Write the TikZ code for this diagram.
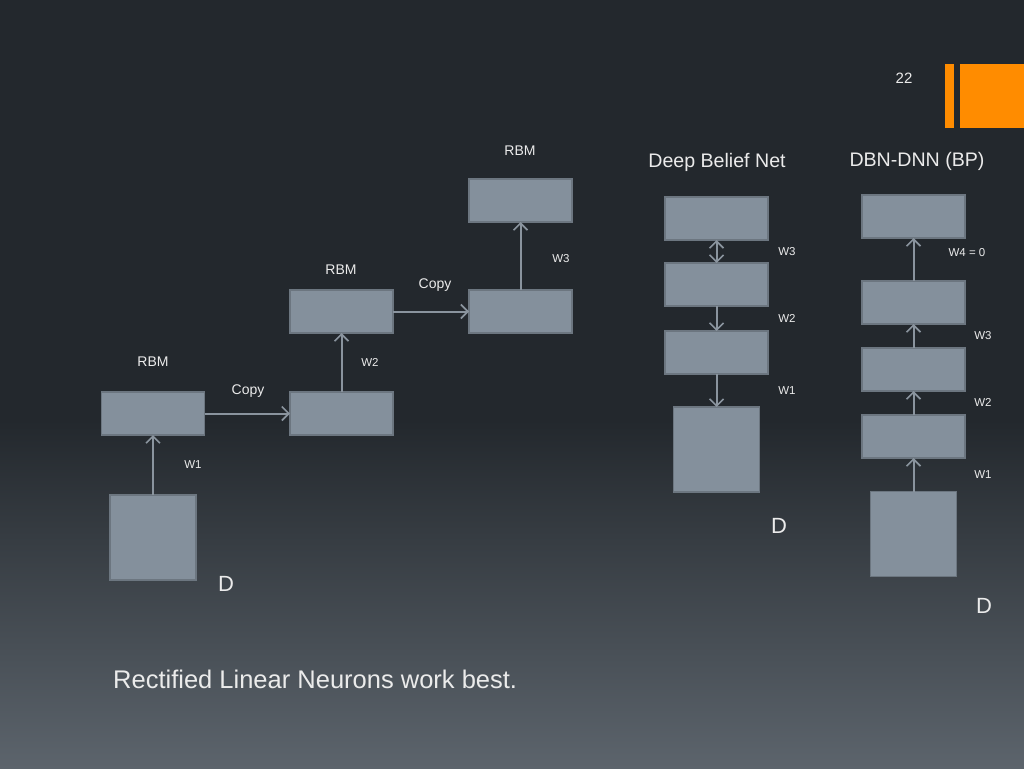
\documentclass[tikz,border=0pt]{standalone}
\usepackage{fontspec}
\setmainfont{Liberation Sans}
\usetikzlibrary{arrows.meta}
\definecolor{bgtop}{RGB}{35,40,45}
\definecolor{bgbot}{RGB}{92,100,108}
\definecolor{boxfill}{RGB}{132,144,156}
\definecolor{boxline}{RGB}{108,118,128}
\definecolor{arr}{RGB}{138,148,158}
\definecolor{txt}{RGB}{235,235,235}
\definecolor{orng}{RGB}{255,140,0}
\begin{document}
\begin{tikzpicture}[x=1pt,y=-1pt,
  blk/.style={draw=boxline,fill=boxfill,line width=1.8pt,minimum width=103pt,minimum height=43pt,inner sep=0pt,outer sep=0pt},
  dbox/.style={blk,minimum width=86pt,minimum height=85pt},
  lab/.style={text=txt,font=\fontsize{14}{16}\selectfont,inner sep=0pt},
  wlab/.style={text=txt,font=\fontsize{11.5}{13}\selectfont,inner sep=0pt},
  big/.style={text=txt,font=\fontsize{19.6}{22}\selectfont,inner sep=0pt},
  dlab/.style={text=txt,font=\fontsize{22}{24}\selectfont,inner sep=0pt},
  tip/.tip={Straight Barb[length=7pt,width=14pt,line width=1.6pt]},
  conn/.style={draw=arr,line width=2pt,-tip},
  conn2/.style={draw=arr,line width=2pt,tip-tip}
]
\useasboundingbox (0,0) rectangle (1024,768);
\fill[bgtop] (0,0) rectangle (1024,768);
\shade[top color=bgtop,bottom color=bgbot] (0,420) rectangle (1024,768);
% orange bars
\fill[orng] (945,64) rectangle (954,128);
\fill[orng] (960,64) rectangle (1024,128);
\node[text=txt,font=\fontsize{15}{17}\selectfont,inner sep=0pt] (pg) at (904,78) {22};
% left stack
\node[dbox] (d1) at (153,537.5) {};
\node[blk] (r1) at (153,413.5) {};
\node[blk] (c1) at (341.5,413.5) {};
\node[blk] (r2) at (341.5,311.5) {};
\node[blk] (c2) at (520.5,311.5) {};
\node[blk] (r3) at (520.5,200.5) {};
\draw[conn] (d1.north) -- (r1.south);
\draw[conn] (r1.east) -- (c1.west);
\draw[conn] (c1.north) -- (r2.south);
\draw[conn] (r2.east) -- (c2.west);
\draw[conn] (c2.north) -- (r3.south);
\node[lab] (t1) at (520,151) {RBM};
\node[lab] (t2) at (341,270) {RBM};
\node[lab] (t3) at (153,362) {RBM};
\node[lab] (cp1) at (435,285) {Copy};
\node[lab] (cp2) at (248,391) {Copy};
\node[wlab] (w3a) at (561,259) {W3};
\node[wlab] (w2a) at (370,362) {W2};
\node[wlab] (w1a) at (193,465) {W1};
\node[dlab] (dd1) at (226,584) {D};
% DBN
\node[big] (tdbn) at (717,162) {Deep Belief Net};
\node[blk] (b1) at (716.5,218.5) {};
\node[blk] (b2) at (716.5,284.5) {};
\node[blk] (b3) at (716.5,352.5) {};
\node[dbox] (bd) at (716.5,449.5) {};
\draw[conn2] (b1.south) -- (b2.north);
\draw[conn] (b2.south) -- (b3.north);
\draw[conn] (b3.south) -- (bd.north);
\node[wlab] (w3b) at (787,252) {W3};
\node[wlab] (w2b) at (787,318) {W2};
\node[wlab] (w1b) at (787,391) {W1};
\node[dlab] (dd2) at (779,526) {D};
% DBN-DNN
\node[big] (tdnn) at (917,161) {DBN-DNN (BP)};
\node[blk] (n1) at (913.5,216.5) {};
\node[blk] (n2) at (913.5,302.5) {};
\node[blk] (n3) at (913.5,369.5) {};
\node[blk] (n4) at (913.5,436.5) {};
\node[dbox] (nd) at (913.5,534) {};
\draw[conn] (nd.north) -- (n4.south);
\draw[conn] (n4.north) -- (n3.south);
\draw[conn] (n3.north) -- (n2.south);
\draw[conn] (n2.north) -- (n1.south);
\node[wlab] (w4c) at (967,253) {W4 = 0};
\node[wlab] (w3c) at (983,336) {W3};
\node[wlab] (w2c) at (983,402) {W2};
\node[wlab] (w1c) at (983,475) {W1};
\node[dlab] (dd3) at (984,606) {D};
% bottom text
\node[text=txt,font=\fontsize{25.5}{30}\selectfont,inner sep=0pt,anchor=west] (bt) at (113,679) {Rectified Linear Neurons work best.};
\end{tikzpicture}
\end{document}
